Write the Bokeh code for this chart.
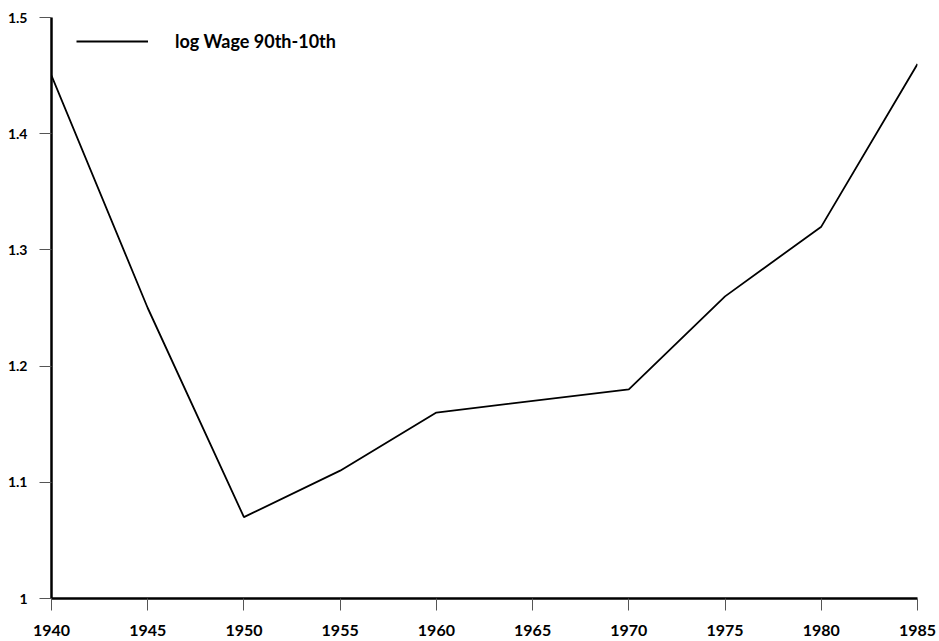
from bokeh.plotting import figure
from bokeh.models import Range1d, FixedTicker, Legend, LegendItem
from bokeh.embed import file_html
from bokeh.resources import INLINE

years = [1940, 1945, 1950, 1955, 1960, 1970, 1975, 1980, 1985]
wage_gap = [1.45, 1.25, 1.07, 1.11, 1.16, 1.18, 1.26, 1.32, 1.46]
series_name = "log Wage 90th-10th"
x_ticks = [1940, 1945, 1950, 1955, 1960, 1965, 1970, 1975, 1980, 1985]
y_ticks = [1.0, 1.1, 1.2, 1.3, 1.4, 1.5]
y_tick_labels = ["1", "1.1", "1.2", "1.3", "1.4", "1.5"]

FONT = "Lato"

p = figure(width=939, height=641, output_backend="svg", toolbar_location=None,
           x_range=Range1d(1940, 1985), y_range=Range1d(1.0, 1.5),
           min_border_left=51, min_border_right=22, min_border_top=17, min_border_bottom=43)
p.outline_line_color = None
p.xgrid.visible = False
p.ygrid.visible = False

r = p.line(years, wage_gap, line_color="black", line_width=1.8)

for ax in (p.xaxis[0], p.yaxis[0]):
    ax.axis_line_width = 2.5
    ax.axis_line_color = "black"
    ax.major_tick_out = 12
    ax.major_tick_in = 0
    ax.minor_tick_out = 0
    ax.minor_tick_in = 0
    ax.major_tick_line_color = "#555555"
    ax.major_tick_line_width = 1
    ax.major_label_text_font = FONT
    ax.major_label_text_font_style = "bold"
    ax.major_label_text_color = "black"

p.xaxis[0].ticker = FixedTicker(ticks=x_ticks)
p.xaxis[0].major_label_standoff = 14
p.xaxis[0].major_label_text_font_size = "16px"
p.yaxis[0].ticker = FixedTicker(ticks=y_ticks)
p.yaxis[0].major_label_overrides = {t: l for t, l in zip(y_ticks, y_tick_labels)}
p.yaxis[0].major_label_standoff = 12
p.yaxis[0].major_label_text_font_size = "14px"

legend = Legend(items=[LegendItem(label=series_name, renderers=[r])],
                location=(25, 581 - 15 - 20), margin=0, padding=0,
                glyph_width=72, glyph_height=20, label_standoff=27,
                border_line_color=None, background_fill_alpha=0,
                label_text_font=FONT, label_text_font_style="bold",
                label_text_font_size="18px", label_text_color="black")
p.add_layout(legend)

open("out.html", "w").write(file_html(p, INLINE))
